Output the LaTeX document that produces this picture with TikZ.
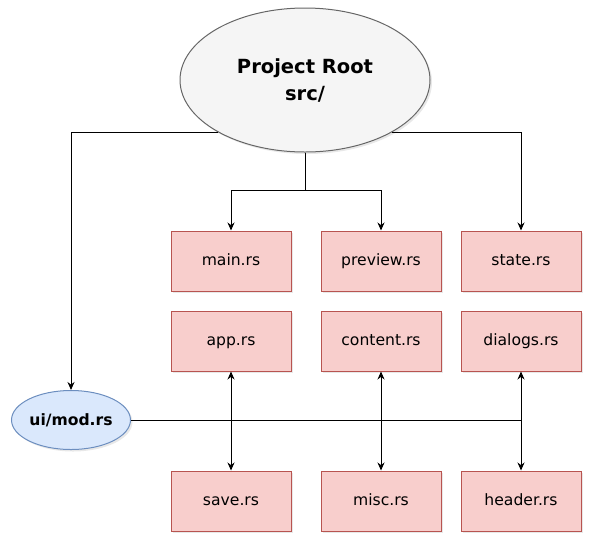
\documentclass[tikz,border=0pt]{standalone}
\usepackage{fontspec}
\setmainfont{DejaVu Sans}
\usepackage{tikz}
\usetikzlibrary{arrows.meta, positioning, shapes.geometric, shadows}

\definecolor{filefill}{HTML}{F8CECC}
\definecolor{fileline}{HTML}{B85450}
\definecolor{rootfill}{HTML}{F5F5F5}
\definecolor{rootline}{HTML}{666666}
\definecolor{modfill}{HTML}{DAE8FC}
\definecolor{modline}{HTML}{6C8EBF}

\begin{document}
\begin{tikzpicture}[x=1pt,y=-1pt,node distance=80pt,on grid,>={Stealth[length=8pt,width=7pt]},
        soft shadow/.style={drop shadow={opacity=0.18,shadow xshift=2pt,shadow yshift=-2pt}},
        file/.style={rectangle,draw=fileline,fill=filefill,line width=1pt,minimum width=120pt,minimum height=60pt,
                     text height=11.5pt,text depth=3pt,font=\fontsize{15.6}{18}\selectfont,soft shadow},
        root/.style={ellipse,draw=rootline,fill=rootfill,line width=1pt,minimum width=250pt,minimum height=144pt,
                     inner sep=0pt,align=center,font=\fontsize{19.5}{27}\selectfont\bfseries,soft shadow},
        module/.style={ellipse,draw=modline,fill=modfill,line width=1pt,minimum width=119pt,minimum height=59pt,
                     inner sep=0pt,font=\fontsize{15.6}{18}\selectfont\bfseries,soft shadow},
        link/.style={line width=1pt}]
    \useasboundingbox (0,0) rectangle (597,547);

      \node[root] (root) at (305,80) {Project Root\\src/};

      \node[file] (main) at (231,261) {main.rs};
      \node[file] (preview) [right=150pt of main] {preview.rs};
      \node[file] (state) [right=140pt of preview] {state.rs};

      \node[file] (app) [below=of main] {app.rs};
      \node[file] (content) [below=of preview] {content.rs};
      \node[file] (dialogs) [below=of state] {dialogs.rs};

      \node[file] (save) [below=160pt of app] {save.rs};
      \node[file] (misc) [below=160pt of content] {misc.rs};
      \node[file] (header) [below=160pt of dialogs] {header.rs};

      \node[module] (uimod) at (71,420) {ui/mod.rs};

      \coordinate (fork) at (305,190);

      \draw[link] (root) -- (fork);
      \draw[link,->] (fork) -| (main);
      \draw[link,->] (fork) -| (preview);
      \draw[link,->] (root.211) -| (uimod);
      \draw[link,->] (root.329) -| (state);

      \draw[link,<->] (app) -- (save);
      \draw[link,<->] (content) -- (misc);
      \draw[link,<->] (dialogs) -- (header);
      \draw[link] (uimod) -- (uimod -| dialogs);
    \end{tikzpicture}
\end{document}
